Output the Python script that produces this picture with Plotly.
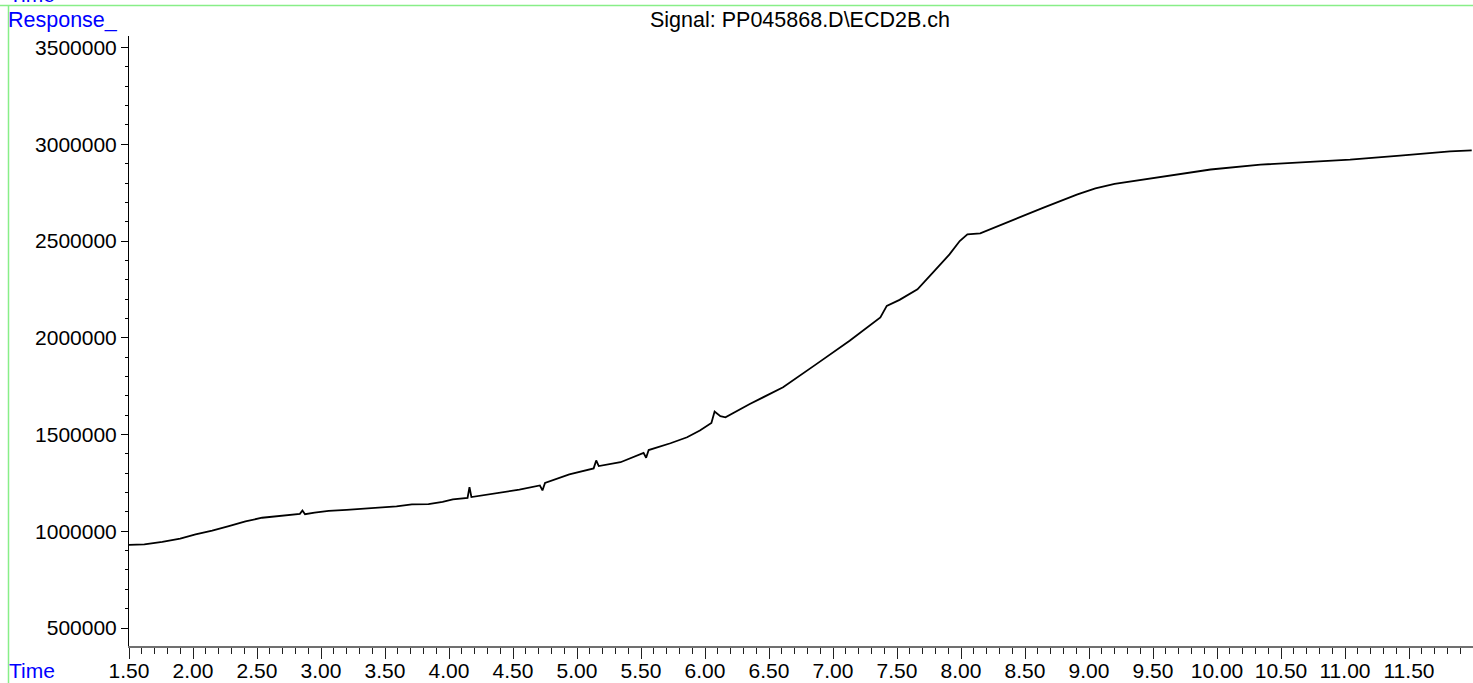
import plotly.graph_objects as go

# ---- data ----
time_min = [1.50, 1.62, 1.76, 1.90, 2.02, 2.15, 2.28, 2.41, 2.54, 2.68, 2.80, 2.835, 2.855, 2.875,
            2.95, 3.06, 3.20, 3.32, 3.45, 3.59, 3.71, 3.84, 3.95, 4.03, 4.145, 4.16, 4.175,
            4.35, 4.55, 4.71, 4.73, 4.75, 4.94, 5.13, 5.15, 5.17, 5.34, 5.52, 5.54, 5.56,
            5.73, 5.86, 5.96, 6.05, 6.075, 6.12, 6.16, 6.35, 6.61, 6.87, 7.13, 7.37, 7.42,
            7.52, 7.66, 7.78, 7.91, 7.99, 8.05, 8.15, 8.38, 8.64, 8.91, 9.05, 9.20, 9.42, 9.69,
            9.95, 10.34, 10.65, 11.04, 11.43, 11.82, 11.99]
response = [930000, 932000, 945000, 962000, 984000, 1003000, 1026000, 1051000, 1070000, 1080000,
            1088000, 1090000, 1107000, 1088000, 1096000, 1105000, 1111000, 1117000, 1123000,
            1129000, 1139000, 1140000, 1152000, 1165000, 1172000, 1228000, 1177000, 1195000,
            1215000, 1237000, 1211000, 1250000, 1294000, 1325000, 1366000, 1337000, 1357000,
            1405000, 1380000, 1420000, 1455000, 1486000, 1521000, 1560000, 1619000, 1595000,
            1589000, 1658000, 1744000, 1864000, 1985000, 2105000, 2165000, 2196000, 2251000,
            2337000, 2431000, 2500000, 2535000, 2540000, 2603000, 2672000, 2741000, 2772000,
            2796000, 2818000, 2844000, 2870000, 2895000, 2907000, 2921000, 2942000, 2964000, 2969000]

title_text = "Signal: PP045868.D\\ECD2B.ch"
y_label = "Response_"
x_label = "Time"

# ---- layout geometry (pixels) ----
W, H = 1473, 683
L, R, T, B = 129, 0, 36, 37
pw, ph = W - L - R, H - T - B


def px(x):
    return (x - L) / pw


def py(y):
    return (H - B - y) / ph


FONT = "Arial, Liberation Sans, sans-serif"
FS = 21

fig = go.Figure()
fig.add_trace(go.Scatter(x=time_min, y=response, mode="lines",
                         line=dict(color="black", width=1.8), hoverinfo="skip"))

fig.update_layout(
    width=W, height=H,
    margin=dict(l=L, r=R, t=T, b=B, autoexpand=False),
    paper_bgcolor="white", plot_bgcolor="white",
    showlegend=False,
    font=dict(family=FONT, size=FS, color="black"),
    xaxis=dict(range=[1.5, 12.0], tick0=1.5, dtick=0.5, tickformat=".2f", automargin=False,
               showgrid=False, zeroline=False, showline=True, linecolor="#707070", linewidth=2,
               ticks="outside", ticklen=11, tickcolor="#202020", tickwidth=1,
               ticklabelstandoff=-6,
               tickfont=dict(family=FONT, size=FS, color="black"),
               minor=dict(dtick=0.1, tick0=1.5, ticks="outside", ticklen=6,
                          tickcolor="#202020", tickwidth=1, showgrid=False)),
    yaxis=dict(range=[407000, 3560000], tick0=500000, dtick=500000, tickformat="d", automargin=False,
               showgrid=False, zeroline=False, showline=True, linecolor="black", linewidth=1,
               ticks="outside", ticklen=7, tickcolor="black", tickwidth=1,
               tickfont=dict(family=FONT, size=FS, color="black"),
               minor=dict(dtick=100000, tick0=500000, ticks="outside", ticklen=3,
                          tickcolor="black", tickwidth=1, showgrid=False)),
)

# green frame lines
fig.add_shape(type="line", xref="paper", yref="paper", x0=px(8.5), x1=px(8.5), y0=py(5), y1=py(H + 5),
              line=dict(color="#88ee88", width=1.5))
fig.add_shape(type="line", xref="paper", yref="paper", x0=px(0), x1=px(W + 5), y0=py(5.5), y1=py(5.5),
              line=dict(color="#88ee88", width=1.5))

# texts
fig.add_annotation(text=y_label, xref="paper", yref="paper", x=px(6), y=py(20),
                   xanchor="left", yanchor="middle", showarrow=False,
                   font=dict(family=FONT, size=FS + 0.5, color="blue"))
fig.add_annotation(text=title_text, xref="paper", yref="paper", x=px(800), y=py(20),
                   xanchor="center", yanchor="middle", showarrow=False,
                   font=dict(family=FONT, size=FS + 0.5, color="black"))
fig.add_annotation(text=x_label, xref="paper", yref="paper", x=px(7), y=py(670),
                   xanchor="left", yanchor="middle", showarrow=False,
                   font=dict(family=FONT, size=FS, color="blue"))
fig.add_annotation(text=x_label, xref="paper", yref="paper", x=px(7), y=py(8),
                   xanchor="left", yanchor="bottom", showarrow=False,
                   font=dict(family=FONT, size=FS, color="blue"))

fig.write_html("out.html", config={"displayModeBar": False},
               post_script="document.body.style.margin='0';document.body.style.overflow='hidden';")
